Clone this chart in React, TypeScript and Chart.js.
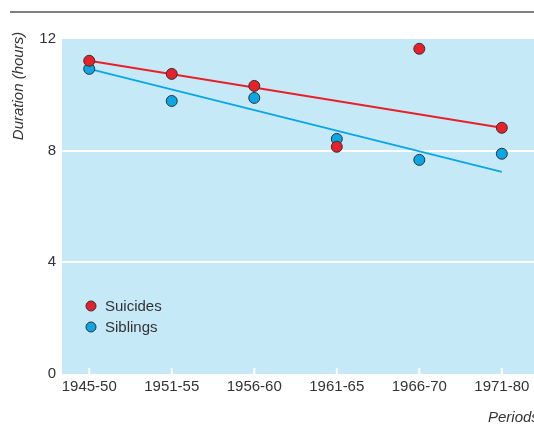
import React, { useEffect, useRef } from "react";
import { Chart, registerables } from "chart.js";

Chart.register(...registerables);

const categories = ["1945-50", "1951-55", "1956-60", "1961-65", "1966-70", "1971-80"];
const suicides = [11.22, 10.75, 10.32, 8.14, 11.65, 8.82];
const siblings = [10.93, 9.78, 9.89, 8.42, 7.67, 7.89];
const suicidesTrend = [11.22, 8.82];
const siblingsTrend = [10.93, 7.24];
const yTicks = [0, 4, 8, 12];

const RED = "#e8202a";
const BLUE = "#0aa6e6";
const BG = "#c6e9f8";
const FONT = "'Liberation Sans', Arial, sans-serif";

export default function App() {
  const ref = useRef<HTMLCanvasElement>(null);
  useEffect(() => {
    document.body.style.margin = "0";
    const canvas = ref.current!;
    const last = categories.length - 1;
    const decor = {
      id: "decor",
      beforeDraw(chart: any) {
        const { ctx, chartArea } = chart;
        ctx.save();
        ctx.fillStyle = BG;
        ctx.fillRect(chartArea.left, chartArea.top, chartArea.right - chartArea.left, chartArea.bottom - chartArea.top);
        ctx.strokeStyle = "#555";
        ctx.lineWidth = 1.5;
        ctx.beginPath();
        ctx.moveTo(10, 12);
        ctx.lineTo(534, 12);
        ctx.stroke();
        ctx.restore();
      },
      beforeDatasetsDraw(chart: any) {
        const { ctx, chartArea, scales } = chart;
        ctx.save();
        ctx.strokeStyle = "#ffffff";
        ctx.lineWidth = 2;
        categories.forEach((_, i) => {
          const x = scales.x.getPixelForValue(i);
          ctx.beginPath();
          ctx.moveTo(x, chartArea.bottom);
          ctx.lineTo(x, chartArea.bottom - 6);
          ctx.stroke();
        });
        ctx.restore();
      },
      afterDraw(chart: any) {
        const { ctx } = chart;
        ctx.save();
        ctx.fillStyle = "#333";
        ctx.font = `italic 15px ${FONT}`;
        ctx.textBaseline = "middle";
        ctx.save();
        ctx.translate(19, 86);
        ctx.rotate(-Math.PI / 2);
        ctx.textAlign = "center";
        ctx.fillText("Duration (hours)", 0, 0);
        ctx.restore();
        ctx.textAlign = "left";
        ctx.fillText("Periods", 488, 418);
        // legend
        const items = [
          { label: "Suicides", color: RED, y: 306 },
          { label: "Siblings", color: BLUE, y: 327 },
        ];
        ctx.font = `15px ${FONT}`;
        items.forEach((it) => {
          ctx.beginPath();
          ctx.arc(91, it.y, 5, 0, Math.PI * 2);
          ctx.fillStyle = it.color;
          ctx.fill();
          ctx.lineWidth = 1;
          ctx.strokeStyle = "#333";
          ctx.stroke();
          ctx.fillStyle = "#333";
          ctx.fillText(it.label, 105, it.y + 1);
        });
        ctx.restore();
      },
    };
    const chart = new Chart(canvas, {
      type: "scatter",
      data: {
        datasets: [
          {
            label: "Suicides",
            data: suicides.map((v, i) => ({ x: i, y: v })),
            backgroundColor: RED,
            borderColor: "#333",
            borderWidth: 1,
            pointRadius: 5.5,
            order: 1,
          },
          {
            label: "Siblings",
            data: siblings.map((v, i) => ({ x: i, y: v })),
            backgroundColor: BLUE,
            borderColor: "#333",
            borderWidth: 1,
            pointRadius: 5.5,
            order: 1,
          },
          {
            label: "Suicides trend",
            data: [{ x: 0, y: suicidesTrend[0] }, { x: last, y: suicidesTrend[1] }],
            showLine: true,
            borderColor: RED,
            borderWidth: 2,
            pointRadius: 0,
            order: 2,
          },
          {
            label: "Siblings trend",
            data: [{ x: 0, y: siblingsTrend[0] }, { x: last, y: siblingsTrend[1] }],
            showLine: true,
            borderColor: BLUE,
            borderWidth: 2,
            pointRadius: 0,
            order: 2,
          },
        ] as any,
      },
      options: {
        responsive: false,
        animation: false,
        layout: { autoPadding: false, padding: { top: 39, left: 0, right: 0, bottom: 0 } },
        plugins: { legend: { display: false }, tooltip: { enabled: false } },
        scales: {
          x: {
            type: "linear",
            min: -0.33,
            max: 5.39,
            afterBuildTicks: (s: any) => {
              s.ticks = categories.map((_, i) => ({ value: i }));
            },
            afterFit: (s: any) => {
              s.height = 50;
              s.paddingLeft = 0;
              s.paddingRight = 0;
            },
            ticks: {
              callback: (v: any) => categories[v as number] ?? "",
              color: "#333",
              font: { family: FONT, size: 15 },
              padding: 4,
              maxRotation: 0,
              autoSkip: false,
            },
            grid: { display: false, drawTicks: false },
            border: { display: false },
          },
          y: {
            min: 0,
            max: 12,
            afterBuildTicks: (s: any) => {
              s.ticks = yTicks.map((v) => ({ value: v }));
            },
            afterFit: (s: any) => {
              s.width = 62;
              s.paddingTop = 0;
              s.paddingBottom = 0;
            },
            ticks: {
              color: "#333",
              font: { family: FONT, size: 15 },
              padding: 6,
            },
            grid: {
              drawTicks: false,
              color: (c: any) => (c.tick && (c.tick.value === 4 || c.tick.value === 8) ? "#ffffff" : "rgba(0,0,0,0)"),
              lineWidth: 2,
            },
            border: { display: false },
          },
        },
      },
      plugins: [decor],
    });
    return () => chart.destroy();
  }, []);
  return <canvas ref={ref} width={534} height={424} style={{ display: "block" }} />;
}
